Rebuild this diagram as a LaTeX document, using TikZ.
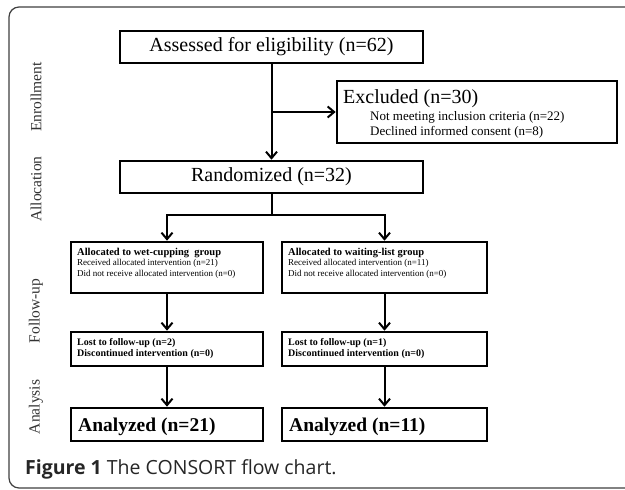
\documentclass[tikz,border=0pt]{standalone}
\usepackage{fontspec}
\setmainfont{Liberation Serif}
\newfontfamily\capfont{Open Sans}
\usetikzlibrary{arrows.meta}

\begin{document}
\begin{tikzpicture}[x=1pt, y=-1pt,
  stagebox/.style={draw, line width=2.6pt, rectangle, inner sep=0pt},
  flowarrow/.style={line width=2pt, -{Straight Barb[length=6.5pt,width=11pt,line width=2pt]}},
  phase/.style={rotate=90, inner sep=0pt, text=black!80, font=\fontsize{15.5}{18}\selectfont},
  boxtxt/.style={inner sep=0pt, align=left, anchor=base west}]
\useasboundingbox (0,0) rectangle (625,490);
\fill[white] (0,0) rectangle (625,490);
\clip (0,0) rectangle (625,490);
% frame
\draw[black!75, line width=1.2pt, rounded corners=10pt] (9,7) rectangle (660,488);

% phases
\node[phase] (enrol) at (36,97) {Enrollment};
\node[phase] (alloc) at (36,189) {Allocation};
\node[phase] (follow) at (36,311) {Follow-up};
\node[phase] (analysis) at (36,407) {Analysis};

% boxes (multi-line texts sit on their last baseline)
\node[stagebox, minimum width=303, minimum height=32, font=\fontsize{20}{24}\selectfont] (assess) at (271.5,47) {Assessed for eligibility (n=62)};
\node[stagebox, minimum width=280, minimum height=62] (excl) at (477,112) {};
\node[boxtxt, font=\fontsize{20}{24}\selectfont] (exclHead) at (343,103) {Excluded (n=30)};
\node[boxtxt, font=\fontsize{13}{15}\selectfont] (exclTxt) at (370,135) {Not meeting inclusion criteria (n=22)\\Declined informed consent (n=8)};
\node[stagebox, minimum width=303, minimum height=32, font=\fontsize{20}{24}\selectfont] (rand) at (271.5,177) {Randomized (n=32)};

\node[stagebox, minimum width=192, minimum height=51] (allocL) at (167,267.5) {};
\node[boxtxt, font=\fontsize{9}{10.5}\selectfont] (allocLtxt) at (77,276) {{\bfseries\fontsize{10.5}{10.5}\selectfont Allocated to wet-cupping\ \ group}\\Received allocated intervention (n=21)\\Did not receive allocated intervention (n=0)};
\node[stagebox, minimum width=205, minimum height=51] (allocR) at (384.5,267.5) {};
\node[boxtxt, font=\fontsize{9}{10.5}\selectfont] (allocRtxt) at (288,276) {{\bfseries\fontsize{10.5}{10.5}\selectfont Allocated to waiting-list group}\\Received allocated intervention (n=11)\\Did not receive allocated intervention (n=0)};

\node[stagebox, minimum width=192, minimum height=34] (lostL) at (167,349) {};
\node[boxtxt, font=\bfseries\fontsize{10}{11}\selectfont] (lostLtxt) at (77,356) {Lost to follow-up (n=2)\\Discontinued intervention (n=0)};
\node[stagebox, minimum width=205, minimum height=34] (lostR) at (384.5,349) {};
\node[boxtxt, font=\bfseries\fontsize{10}{11}\selectfont] (lostRtxt) at (288,356) {Lost to follow-up (n=1)\\Discontinued intervention (n=0)};

\node[stagebox, minimum width=192, minimum height=33] (anaL) at (167,424.5) {};
\node[boxtxt, font=\bfseries\fontsize{19.5}{22}\selectfont] (anaLtxt) at (78,431) {Analyzed (n=21)};
\node[stagebox, minimum width=205, minimum height=33] (anaR) at (384.5,424.5) {};
\node[boxtxt, font=\bfseries\fontsize{19.5}{22}\selectfont] (anaRtxt) at (289,431) {Analyzed (n=11)};

% connectors
\coordinate (fork) at (271.5,215);
\draw[flowarrow] (assess.south) -- (rand.north);
\draw[flowarrow] (assess.south |- excl.west) -- (excl.west);
\draw[line width=2pt] (rand.south) -- (fork);
\draw[flowarrow] (fork) -| (allocL.north);
\draw[flowarrow] (fork) -| (allocR.north);
\draw[flowarrow] (allocL.south) -- (lostL.north);
\draw[flowarrow] (allocR.south) -- (lostR.north);
\draw[flowarrow] (lostL.south) -- (anaL.north);
\draw[flowarrow] (lostR.south) -- (anaR.north);

% caption
\node[inner sep=0pt, anchor=base west, text=black!85, font=\capfont\fontsize{19.5}{22}\selectfont] (caption) at (25,474) {\textbf{Figure 1} The CONSORT flow chart.};
\end{tikzpicture}
\end{document}
